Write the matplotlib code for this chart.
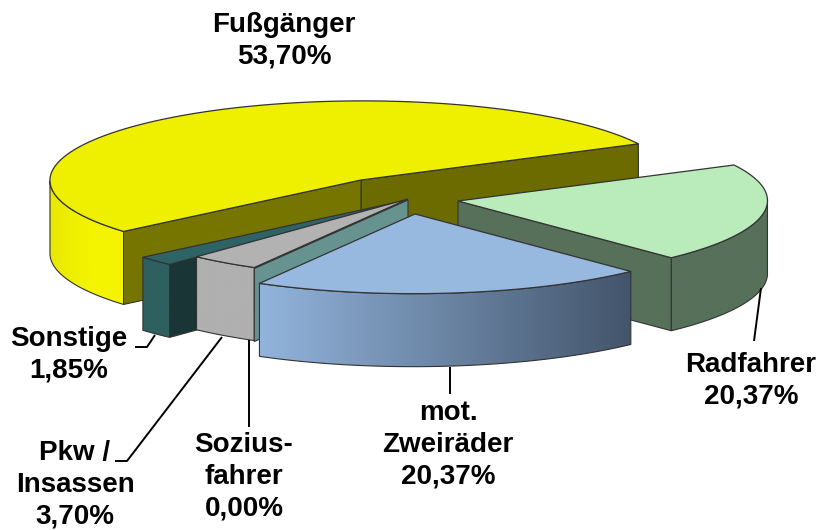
import numpy as np
import matplotlib
matplotlib.use("Agg")
import matplotlib.pyplot as plt
from matplotlib.patches import Polygon
from matplotlib.colors import LinearSegmentedColormap

plt.rcParams['font.family'] = ['Liberation Sans', 'DejaVu Sans']

# ---- data ----
categories = ["Fußgänger", "Radfahrer", "mot.\nZweiräder", "Sozius-\nfahrer", "Pkw /\nInsassen", "Sonstige"]
values = [53.70, 20.37, 20.37, 0.00, 3.70, 1.85]
value_labels = ["53,70%", "20,37%", "20,37%", "0,00%", "3,70%", "1,85%"]

# ---- styling / geometry (pixel space of the figure) ----
W, H = 819, 530
U = np.array([276.0, -36.0])     # projected radius of angle 0
V = np.array([-140.0, -70.0])    # projected radius of angle 90
DEPTH = 73
apex = [(361, 180), (458, 201), (415, 214), (408, 200), (408, 199), (398, 202)]
scale = [1.005, 1.0, 1.012, 1.0, 1.0, 1.08]
top_col = ['#efef00', '#baecbb', '#97b9e0', '#b2b2b2', '#b2b2b2', '#2f6466']
outer_cols = [('#e8e800', '#f4f400'), ('#56705a', '#56705a'), ('#92b4dc', '#43556b'),
              ('#66938f', '#66938f'), ('#b0b0b0', '#b0b0b0'), ('#2e6060', '#2e6060')]
face_lo = ['#6b6b00', '#56705a', None, None, None, None]
face_hi = ['#757500', None, None, '#66938f', None, '#1a3535']
draw_order = [0, 5, 4, 3, 1, 2]
edge = '#333333'

text_pos = [(284, 41), (751, 381), (448, 445), (244, 477), (75, 485), (69, 355)]
leaders = [None,
           [(761, 288), (754, 341)],
           [(450, 367), (450, 394)],
           [(249, 340), (249, 427)],
           [(222, 337), (127, 461), (115, 461)],
           [(155, 335), (147, 347), (135, 347)]]

# ---- angles from values (clockwise from 0 for all but the first slice) ----
fr = np.array(values) / sum(values) * 360.0
lo = np.zeros(6); hi = np.zeros(6)
lo[0], hi[0] = 0.0, fr[0]
cur = 0.0
for i in range(1, 6):
    hi[i] = cur
    cur -= fr[i]
    lo[i] = cur


def pts(i, th, dz=0):
    t = np.radians(np.atleast_1d(th))
    a = np.array(apex[i], float)
    xy = a + scale[i] * (np.outer(np.cos(t), U) + np.outer(np.sin(t), V))
    xy[:, 1] += dz
    return xy


fig = plt.figure(figsize=(W / 100, H / 100), dpi=100)
ax = fig.add_axes([0, 0, 1, 1])

z = 1
for i in draw_order:
    ths = np.linspace(lo[i], hi[i], max(2, int(abs(hi[i] - lo[i]) * 2) + 2))
    top = pts(i, ths)
    bot = pts(i, ths, DEPTH)
    # only the part of the wall that faces the viewer
    t = np.radians(ths)
    dxdth = -np.sin(t) * U[0] + np.cos(t) * V[0]
    vis = dxdth > 0
    a_top = np.array(apex[i], float)
    a_bot = a_top + [0, DEPTH]
    if vis.sum() > 1 and abs(hi[i] - lo[i]) > 0:
        wt, wb = top[vis], bot[vis]
        outline = np.vstack([wb, wt[::-1]])
        xmin, xmax = outline[:, 0].min(), outline[:, 0].max()
        span = xmax if i != 0 else xmin + 40
        cmap = LinearSegmentedColormap.from_list('w', outer_cols[i])
        grad = np.clip((np.linspace(xmin, xmax, 400) - xmin) / (span - xmin), 0, 1)[None, :]
        im = ax.imshow(grad, extent=(xmin, xmax, outline[:, 1].max(), outline[:, 1].min()),
                       cmap=cmap, vmin=0, vmax=1, aspect='auto', zorder=z, interpolation='bilinear')
        patch = Polygon(outline, closed=True, fc='none', ec=edge, lw=0.8, zorder=z + 1)
        ax.add_patch(patch)
        im.set_clip_path(patch)
        z += 2
    for th, col in ((lo[i], face_lo[i]), (hi[i], face_hi[i])):
        if col is None:
            continue
        c_top = pts(i, th)[0]
        c_bot = pts(i, th, DEPTH)[0]
        ax.add_patch(Polygon([a_top, c_top, c_bot, a_bot], closed=True, fc=col, ec=edge, lw=0.8, zorder=z))
        z += 1
    if abs(hi[i] - lo[i]) > 0:
        ax.add_patch(Polygon(np.vstack([a_top, top]), closed=True, fc=top_col[i], ec=edge, lw=0.9, zorder=z))
        z += 1

for i in range(6):
    if leaders[i]:
        xs, ys = zip(*leaders[i])
        ax.plot(xs, ys, color='black', lw=1.4, zorder=z, solid_capstyle='butt')
    ax.text(text_pos[i][0], text_pos[i][1], categories[i] + "\n" + value_labels[i],
            ha='center', va='center', fontsize=20, fontweight='bold', color='black',
            linespacing=1.29, multialignment='center', zorder=z + 1)

ax.set_xlim(0, W)
ax.set_ylim(H, 0)
ax.axis('off')
fig.savefig('out.png', dpi=100)
